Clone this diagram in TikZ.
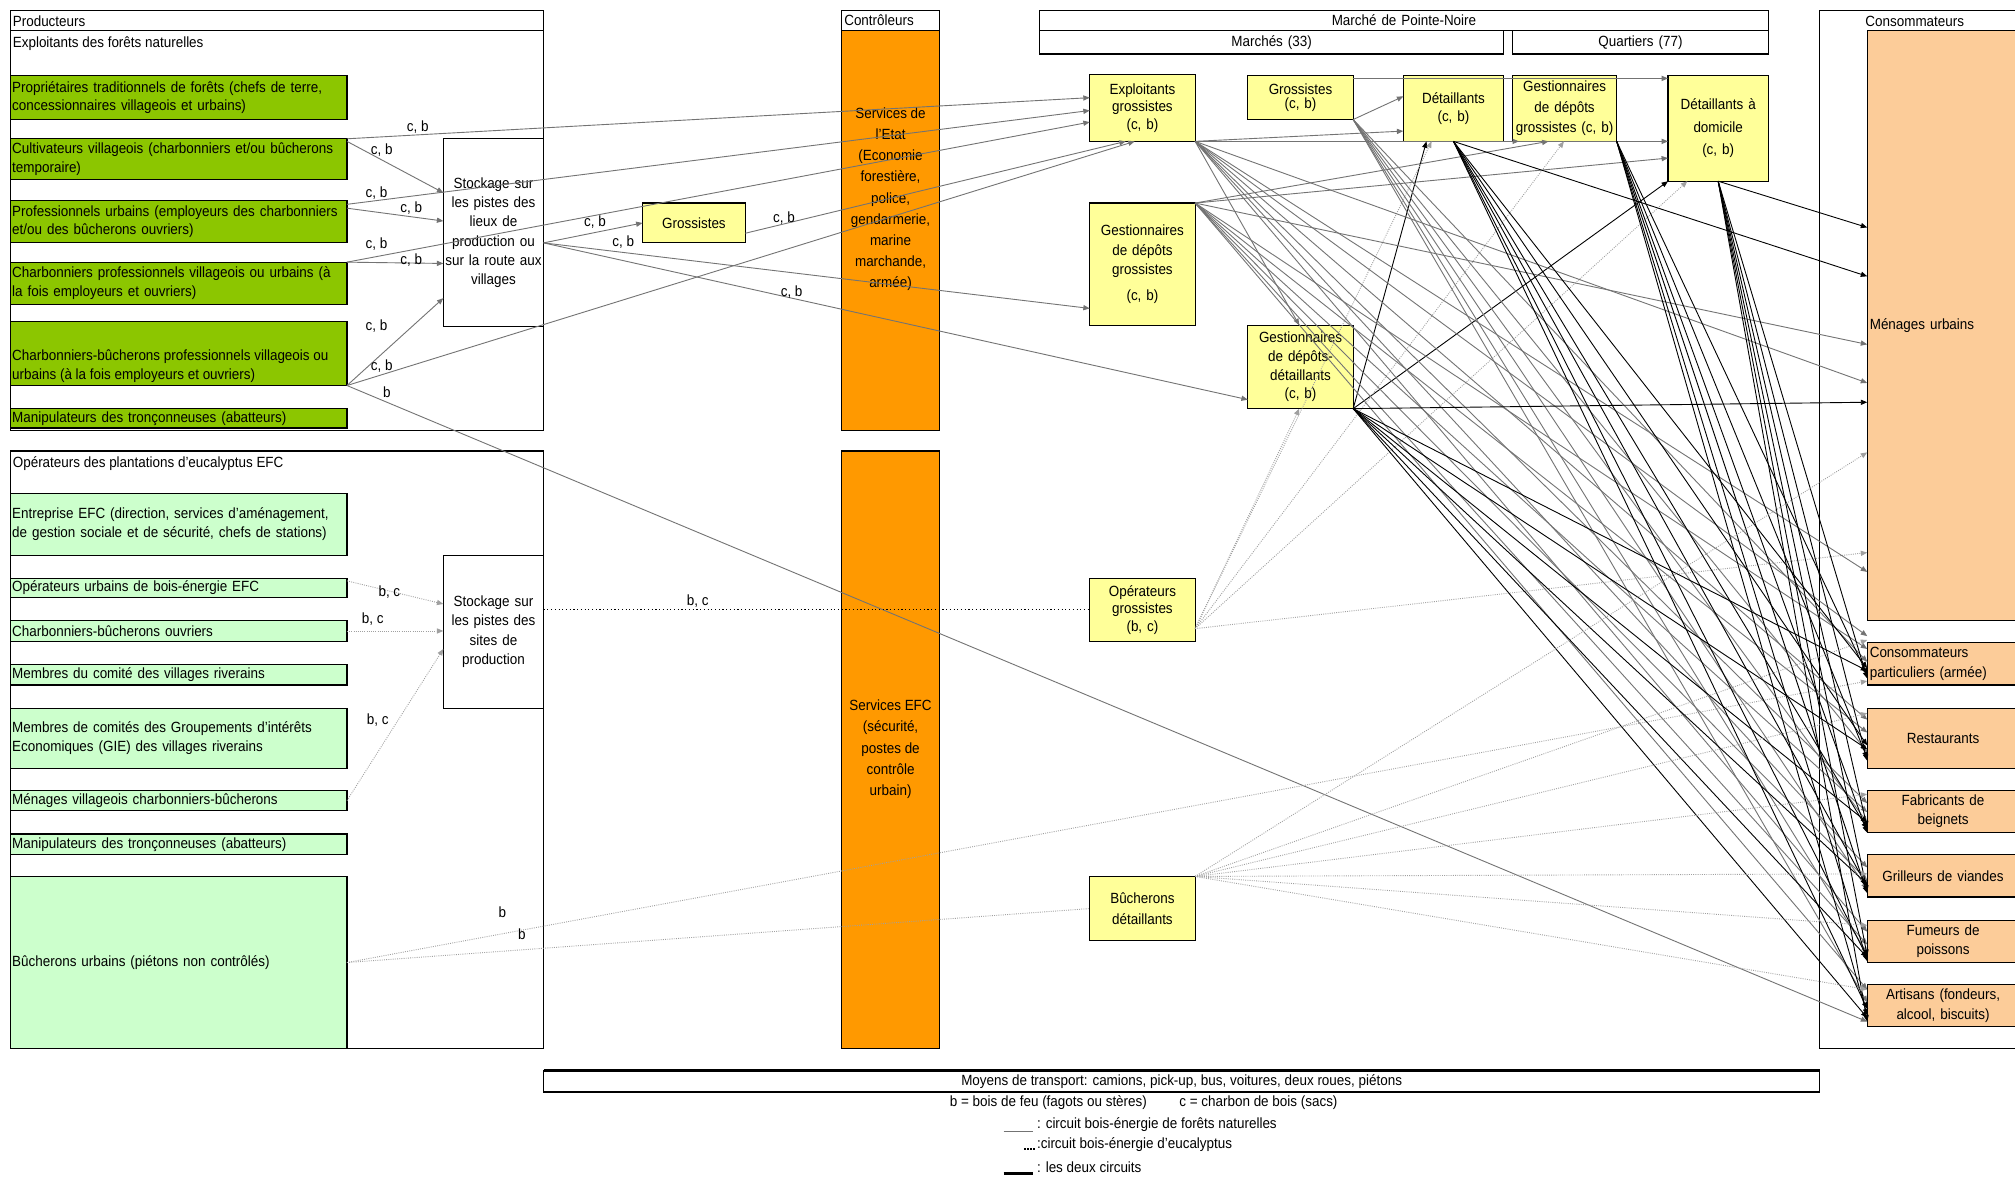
\documentclass[tikz,border=0pt]{standalone}
\usepackage{fontspec}
\setmainfont{Liberation Sans}[FakeStretch=0.91]
\usetikzlibrary{arrows.meta,calc}
\definecolor{dgreen}{RGB}{140,198,0}
\definecolor{lgreen}{RGB}{204,255,204}
\definecolor{orng}{RGB}{255,153,0}
\definecolor{yel}{RGB}{255,255,153}
\definecolor{peach}{RGB}{252,204,153}
\definecolor{natc}{RGB}{115,115,115}
\definecolor{eucc}{RGB}{160,160,160}
\begin{document}
\begin{tikzpicture}[x=1pt,y=-1pt,
  every node/.style={font=\fontsize{11.5}{13.5}\selectfont, inner sep=0pt, outer sep=0pt},
  box/.style={draw=black, line width=0.9pt, inner sep=2pt, anchor=north west},
  gbox/.style={box, fill=dgreen, text width=259pt, inner xsep=1.5pt, align=left, font=\fontsize{11.5}{14.5}\selectfont},
  lbox/.style={box, fill=lgreen, text width=259pt, inner xsep=1.5pt, align=left, font=\fontsize{11.5}{14.5}\selectfont},
  ybox/.style={box, fill=yel, align=center, inner sep=1pt, font=\fontsize{11.5}{13.5}\selectfont},
  pbox/.style={box, fill=peach, text width=114pt, font=\fontsize{11.5}{15}\selectfont},
  wbox/.style={box, fill=white},
  lab/.style={font=\fontsize{11.5}{13}\selectfont},
  nat/.style={draw=natc, line width=0.7pt},
  euc/.style={draw=eucc, line width=0.7pt, densely dotted},
  both/.style={draw=black, line width=0.7pt},
  tip/.style={-{Triangle[length=5pt,width=4pt]}},
]
\useasboundingbox (0,0) rectangle (1568,916);
\fill[white] (0,0) rectangle (1568,916);
\clip (0,0) rectangle (1568,916);

% ---------------- Producteurs panel
\draw[line width=0.9pt] (8,8) rectangle (423,24);
\node[anchor=west] (hProd) at (10,16.5) {Producteurs};
\draw[line width=0.9pt] (8,24) rectangle (423,335);
\node[anchor=west] (hExp) at (10,34) {Exploitants des forêts naturelles};
\draw[line width=0.9pt] (8,351) rectangle (423,816);
\node[anchor=west] (hOpe) at (10,361) {Opérateurs des plantations d'eucalyptus EFC};

\node[gbox, minimum height=34pt] (PT) at (8,59) {Propriétaires traditionnels de forêts (chefs de terre,\\concessionnaires villageois et urbains)};
\node[gbox, minimum height=32pt] (CV) at (8,108) {Cultivateurs villageois (charbonniers et/ou bûcherons\\temporaire)};
\node[gbox, minimum height=33pt] (PU) at (8,156) {Professionnels urbains (employeurs des charbonniers\\et/ou des bûcherons ouvriers)};
\node[gbox, minimum height=33pt] (CPV) at (8,204) {Charbonniers professionnels villageois ou urbains (à\\la fois employeurs et ouvriers)};
\node[gbox, minimum height=50pt] (CB) at (8,250) {};
\node[anchor=west, align=left, font=\fontsize{11.5}{14.5}\selectfont] (CBt) at (9.5,285) {Charbonniers-bûcherons professionnels villageois ou\\urbains (à la fois employeurs et ouvriers)};
\node[gbox, minimum height=15pt] (MT) at (8,318) {Manipulateurs des tronçonneuses (abatteurs)};

\node[lbox, minimum height=48pt] (EE) at (8,384) {Entreprise EFC (direction, services d'aménagement,\\de gestion sociale et de sécurité, chefs de stations)};
\node[lbox, minimum height=15pt] (OU) at (8,450) {Opérateurs urbains de bois-énergie EFC};
\node[lbox, minimum height=16pt] (CBO) at (8,483) {Charbonniers-bûcherons ouvriers};
\node[lbox, minimum height=16pt] (MC) at (8,517) {Membres du comité des villages riverains};
\node[lbox, minimum height=47pt] (MG) at (8,551) {Membres de comités des Groupements d'intérêts\\Economiques (GIE) des villages riverains};
\node[lbox, minimum height=16pt] (MV) at (8,615) {Ménages villageois charbonniers-bûcherons};
\node[lbox, minimum height=16pt] (MT2) at (8,649) {Manipulateurs des tronçonneuses (abatteurs)};
\node[lbox, minimum height=134pt] (BU) at (8,682) {Bûcherons urbains (piétons non contrôlés)};

\node[wbox, text width=74pt, minimum height=146pt, align=center, font=\fontsize{11.5}{15}\selectfont] (S1) at (345,108) {Stockage sur\\les pistes des\\lieux de\\production ou\\\makebox[74pt]{sur la route aux}\\villages};
\node[wbox, text width=74pt, minimum height=119pt, align=center, font=\fontsize{11.5}{15}\selectfont] (S2) at (345,432) {Stockage sur\\les pistes des\\sites de\\production};

% ---------------- Controleurs
\node[wbox, text width=72pt, minimum height=16pt, align=left] (CTh) at (655,8) {Contrôleurs};
\node[box, fill=orng, minimum width=76pt, minimum height=311pt, inner sep=0pt] (SE) at (655,24) {};
\node[align=center, font=\fontsize{11.5}{16.5}\selectfont] (SEt) at (693,155) {Services de\\l'Etat\\(Economie\\forestière,\\police,\\gendarmerie,\\marine\\marchande,\\armée)};
\node[box, fill=orng, minimum width=76pt, minimum height=465pt, inner sep=0pt] (SF) at (655,351) {};
\node[align=center, font=\fontsize{11.5}{16.5}\selectfont] (SFt) at (693,583) {Services EFC\\(sécurité,\\postes de\\contrôle\\urbain)};

% ---------------- Marche
\node[wbox, text width=563pt, minimum height=16pt, align=center] (MPN) at (809,8) {Marché de Pointe-Noire};
\node[wbox, text width=357pt, minimum height=18pt, align=center] (MAR) at (809,24) {Marchés (33)};
\node[wbox, text width=195pt, minimum height=18pt, align=center] (QUA) at (1177,24) {Quartiers (77)};

\node[ybox, text width=78pt, minimum height=31pt] (GRO) at (500,158) {Grossistes};
\node[ybox, text width=80pt, minimum height=52pt] (EG) at (848,58) {Exploitants\\grossistes\\(c, b)};
\node[ybox, text width=80pt, minimum height=95pt, font=\fontsize{11.5}{15}\selectfont] (GDG) at (848,158) {Gestionnaires\\de dépôts\\grossistes\\[5pt](c, b)};
\node[ybox, text width=80pt, minimum height=34pt, font=\fontsize{11.5}{11.5}\selectfont] (GR) at (971,59) {Grossistes\\(c, b)};
\node[ybox, text width=76pt, minimum height=51pt] (DT) at (1092,59) {Détaillants\\(c, b)};
\node[ybox, text width=79pt, minimum height=51pt, font=\fontsize{11.5}{16}\selectfont] (GDGQ) at (1177,59) {Gestionnaires\\de dépôts\\\makebox[79pt]{grossistes (c, b)}};
\node[ybox, text width=76pt, minimum height=82pt, font=\fontsize{11.5}{17.5}\selectfont] (DD) at (1298,59) {Détaillants à\\domicile\\(c, b)};
\node[ybox, text width=80pt, minimum height=65pt, font=\fontsize{11.5}{14.5}\selectfont] (GDD) at (971,253) {Gestionnaires\\de dépôts-\\détaillants\\(c, b)};
\node[ybox, text width=80pt, minimum height=49pt] (OG) at (848,450) {Opérateurs\\grossistes\\(b, c)};
\node[ybox, text width=80pt, minimum height=50pt, font=\fontsize{11.5}{16}\selectfont] (BD) at (848,682) {Bûcherons\\détaillants};

% ---------------- Consommateurs
\draw[line width=0.9pt] (1416,8) rectangle (1600,816);
\node (hCons) at (1490,16.5) {Consommateurs};
\node[pbox, minimum height=459pt, align=left] (MU) at (1453,24) {Ménages urbains};
\node[pbox, minimum height=33pt, align=left] (CP) at (1453,500) {Consommateurs\\particuliers (armée)};
\node[pbox, minimum height=47pt, align=center] (RE) at (1453,551) {Restaurants};
\node[pbox, minimum height=33pt, align=center] (FB) at (1453,615) {Fabricants de\\beignets};
\node[pbox, minimum height=33pt, align=center] (GV) at (1453,665) {Grilleurs de viandes};
\node[pbox, minimum height=33pt, align=center] (FP) at (1453,716) {Fumeurs de\\poissons};
\node[pbox, minimum height=33pt, align=center] (AR) at (1453,766) {Artisans (fondeurs,\\alcool, biscuits)};

% ---------------- Transport and legend
\node[draw, line width=0.6pt, anchor=north west, minimum width=993pt, minimum height=17pt] (TR) at (423,833) {Moyens de transport: camions, pick-up, bus, voitures, deux roues, piétons};
\draw[line width=1.8pt] (TR.north west) -- (TR.north east);
\draw[line width=1.8pt] (TR.south west) -- (TR.south east);
\node (lg1) at (890,858) {b = bois de feu (fagots ou stères)\hspace{2.2em}c = charbon de bois (sacs)};
\node[anchor=west] (lg2) at (807,875) {: circuit bois-énergie de forêts naturelles};
\node[anchor=west] (lg3) at (807,891) {:circuit bois-énergie d'eucalyptus};
\node[anchor=west] (lg4) at (807,908) {: les deux circuits};
\draw[natc, line width=0.6pt] (781,880) -- (804,880);
\draw[black, line width=1.3pt, densely dotted] (797,894) -- (806,894);
\draw[black, line width=2.6pt] (781,913) -- (804,913);

% ---------------- Connectors: section 1 producers
\draw[nat,tip] (CV.north east) -- (EG.west |- 0,76);
\draw[nat,tip] ($(CV.north east)+(0,2)$) -- (S1.west |- 0,150);
\draw[nat,tip] ($(PU.north east)+(0,3)$) -- (EG.west |- 0,86);
\draw[nat,tip] ($(PU.north east)+(0,6)$) -- (S1.west |- 0,172);
\draw[nat,tip] (CPV.north east) -- (EG.west |- 0,95);
\draw[nat,tip] (CPV.north east) -- (S1.west |- 0,205);
\draw[nat,tip] (CB.south east) -- (S1.west |- 0,232);
\draw[nat,tip] (CB.south east) -- ($(EG.south west)+(35,0)$);
\draw[nat,tip] (CB.south east) -- (AR.west |- 0,795);

\coordinate (S1x) at ($(S1.east)+(0,8)$);
\draw[nat,tip] (S1x) -- (GRO.west);
\draw[nat,tip] (S1x) -- (GDG.west |- 0,240);
\draw[nat,tip] (S1x) -- (GDD.west |- 0,311);
\draw[nat,tip] ($(GRO.east)+(0,8)$) -- ($(EG.south west)+(28,0)$);

% section 2 producers
\draw[euc,tip] ($(OU.north east)+(0,2)$) -- (S2.west |- 0,470);
\draw[euc,tip] (CBO.east) -- (S2.west |- 0,491);
\draw[euc,tip] (MV.east) -- (S2.west |- 0,505);
\draw[black, line width=0.9pt, dotted] (S2.east |- 0,474) -- (OG.west |- 0,474);
\draw[euc] (BU.east) -- (BD.west |- 0,707);
\draw[euc,tip] (BU.east) -- (CP.west |- 0,530);

% market internal links
\draw[nat,tip] ($(GR.north east)+(0,2)$) -- ($(DD.north west)+(0,2)$);
\draw[nat,tip] (GR.south east) -- (DT.west |- 0,75);
\draw[nat,tip] (EG.south east) -- (DT.west |- 0,102);
\draw[nat,tip] (EG.south east) -- ($(GDGQ.south west)+(5,0)$);
\draw[nat,tip] (EG.south east) -- (DD.west |- 0,110);
\draw[nat,tip] (GDG.north east) -- (DD.west |- 0,123);
\draw[nat,tip] (GDG.north east) -- ($(GDGQ.south west)+(28,0)$);
\draw[nat,tip] (EG.south east) -- ($(GDD.north west)+(40,0)$);
\draw[both,tip] (GDD.south east) -- ($(DT.south west)+(18,0)$);
\draw[both,tip] (GDD.south east) -- (DD.south west);
\coordinate (OGx) at ($(OG.north east)!0.8!(OG.south east)$);
\draw[euc,tip] (OGx) -- ($(GDD.south west)+(40,0)$);
\draw[euc,tip] (OGx) -- ($(DT.south west)+(22,0)$);
\draw[euc,tip] (OGx) -- ($(GDGQ.south west)+(40,0)$);
\draw[euc,tip] (OGx) -- ($(DD.south west)+(15,0)$);
\draw[euc,tip] (OGx) -- (MU.west |- 0,430);

% fans to consumers
\foreach \b/\t in {MU/298,MU/445,CP/495,RE/560,FB/625,GV/675,FP/725}
  \draw[nat,tip] (EG.south east) -- (\b.west |- 0,\t);
\foreach \b/\t in {MU/268,CP/505,RE/570,FB/632,GV/685,FP/735,AR/770}
  \draw[nat,tip] (GDG.north east) -- (\b.west |- 0,\t);
\foreach \b/\t in {CP/515,RE/585,FB/640,GV/692,FP/742,AR/780}
  \draw[nat,tip] (GR.south east) -- (\b.west |- 0,\t);
\foreach \b/\t in {MU/215,CP/520,RE/580,FB/645,GV/690,FP/745,AR/785}
  \draw[both,tip] (DT.south) -- (\b.west |- 0,\t);
\foreach \b/\t in {CP/525,RE/590,FB/648,GV/695,FP/748,AR/790}
  \draw[both,tip] (GDGQ.south east) -- (\b.west |- 0,\t);
\foreach \b/\t in {MU/177,CP/528,RE/592,FB/644,GV/694,FP/744,AR/795}
  \draw[both,tip] (DD.south) -- (\b.west |- 0,\t);
\foreach \b/\t in {MU/313,CP/522,RE/583,FB/640,GV/688,FP/745,AR/792}
  \draw[both,tip] (GDD.south east) -- (\b.west |- 0,\t);
\foreach \b/\t in {MU/352,CP/498,RE/555,FB/618,GV/680,FP/720,AR/770}
  \draw[euc,tip] (BD.north east) -- (\b.west |- 0,\t);

% ---------------- Labels
\node[lab] (l1) at (325,99) {c, b};
\node[lab] (l2) at (297,117) {c, b};
\node[lab] (l3) at (293,150) {c, b};
\node[lab] (l4) at (320,162) {c, b};
\node[lab] (l5) at (293,190) {c, b};
\node[lab] (l6) at (320,202) {c, b};
\node[lab] (l7) at (293,254) {c, b};
\node[lab] (l8) at (297,285) {c, b};
\node[lab] (l9) at (301,305) {b};
\node[lab] (l10) at (463,173) {c, b};
\node[lab] (l11) at (485,188) {c, b};
\node[lab] (l12) at (616,227) {c, b};
\node[lab] (l13) at (610,170) {c, b};
\node[lab] (l14) at (303,461) {b, c};
\node[lab] (l15) at (290,482) {b, c};
\node[lab] (l16) at (294,560) {b, c};
\node[lab] (l17) at (543,468) {b, c};
\node[lab] (l18) at (406,727) {b};
\node[lab] (l19) at (391,710) {b};
\end{tikzpicture}
\end{document}
